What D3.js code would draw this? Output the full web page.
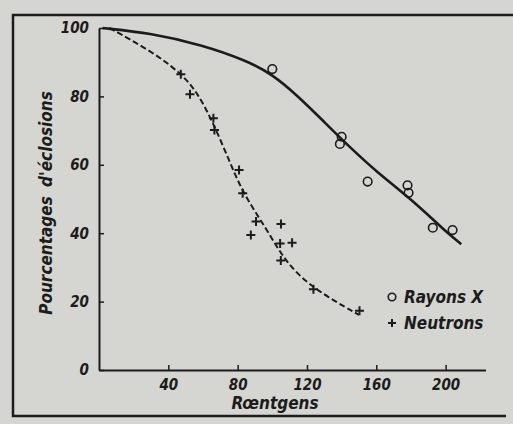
<!DOCTYPE html>
<html>
<head>
<meta charset="utf-8">
<script src="https://cdn.jsdelivr.net/npm/d3@7"></script>
<style>
  body { margin: 0; background: #d5d5d1; }
  svg { display: block; }
  text { font-family: "DejaVu Sans Condensed", "Liberation Sans Narrow", "Liberation Sans", sans-serif; font-weight: bold; font-style: italic; fill: #1c1c1c; }
</style>
</head>
<body>
<svg id="chart" width="513" height="424"></svg>
<script>
const xrayDose = [100, 140, 139, 155, 178, 178.6, 192.6, 204]
const xrayPct = [88, 68.2, 66.1, 55.1, 54, 51.8, 41.6, 40.9]
const neutronDose = [47.2, 52.5, 66, 66.6, 80.8, 82.9, 90.6, 87.6, 105, 104.5, 111.4, 104.9, 123.7, 150.3]
const neutronPct = [86.5, 80.6, 73.6, 70.2, 58.5, 51.7, 43.4, 39.5, 42.7, 37, 37.2, 32, 23.6, 17.3]

// hand drawn fitted curves
const xrayCurveDose = [2, 30, 60, 85, 100, 115, 130, 145, 160, 180, 200, 209]
const xrayCurvePct = [100, 98.5, 95, 90.5, 86.5, 80, 72.5, 65, 58, 50, 40.5, 36.8]
const neutronCurveDose = [6, 29, 47, 57, 66, 75, 83, 97, 108, 124, 150]
const neutronCurvePct = [100, 93.6, 87, 81, 72.1, 61.4, 51.7, 41, 31.2, 23.6, 16.1]

const xTicks = [40, 80, 120, 160, 200]
const yTicks = [0, 20, 40, 60, 80, 100]
const legendLabels = ["Rayons X", "Neutrons"]

const svg = d3.select("#chart")
const ink = "#1c1c1c"

// frame around the figure
svg.append("path")
    .attr("d", "M513,15 L13,15 L13,416 L506,416")
    .attr("fill", "none")
    .attr("stroke", ink)
    .attr("stroke-width", 2.5)

const x = d3.scaleLinear().domain([0, 223]).range([99, 485.5])
const y = d3.scaleLinear().domain([0, 100]).range([370, 28])

const xAxis = svg.append("g")
    .attr("transform", `translate(0,${y(0)})`)
    .call(d3.axisBottom(x).tickValues(xTicks).tickSizeInner(-5).tickSizeOuter(0).tickPadding(9))
xAxis.selectAll("text").style("font-size", "15px")

const yAxis = svg.append("g")
    .attr("transform", `translate(${x(0)},0)`)
    .call(d3.axisLeft(y).tickValues(yTicks).tickSizeInner(-5).tickSizeOuter(0).tickPadding(10))
yAxis.selectAll("text").style("font-size", "15px")

svg.selectAll(".domain").attr("stroke", ink).attr("stroke-width", 2)
svg.selectAll(".tick line").attr("stroke", ink).attr("stroke-width", 1.5)

// axis titles
svg.append("text")
    .attr("x", 275)
    .attr("y", 409)
    .attr("text-anchor", "middle")
    .style("font-size", "17px")
    .text("Rœntgens")

svg.append("text")
    .attr("transform", "translate(52,203) rotate(-90)")
    .attr("text-anchor", "middle")
    .style("font-size", "17px")
    .style("word-spacing", "4px")
    .text("Pourcentages d'éclosions")

// fitted curves
const curveLine = d3.line()
    .curve(d3.curveBasis)
    .x(d => x(d[0]))
    .y(d => y(d[1]))

svg.append("path")
    .attr("d", curveLine(xrayCurveDose.map((d, i) => [d, xrayCurvePct[i]])))
    .attr("fill", "none")
    .attr("stroke", ink)
    .attr("stroke-width", 2.6)

svg.append("path")
    .attr("d", curveLine(neutronCurveDose.map((d, i) => [d, neutronCurvePct[i]])))
    .attr("fill", "none")
    .attr("stroke", ink)
    .attr("stroke-width", 2)
    .attr("stroke-dasharray", "6,3")

// points
svg.append("g")
    .selectAll("circle")
    .data(xrayDose.map((d, i) => [d, xrayPct[i]]))
    .enter()
    .append("circle")
    .attr("cx", d => x(d[0]))
    .attr("cy", d => y(d[1]))
    .attr("r", 4.3)
    .attr("fill", "none")
    .attr("stroke", ink)
    .attr("stroke-width", 1.6)

const plus = (cx, cy, s) => `M${cx - s},${cy} H${cx + s} M${cx},${cy - s} V${cy + s}`

svg.append("g")
    .selectAll("path")
    .data(neutronDose.map((d, i) => [d, neutronPct[i]]))
    .enter()
    .append("path")
    .attr("d", d => plus(x(d[0]), y(d[1]), 4.5))
    .attr("stroke", ink)
    .attr("stroke-width", 2)

// legend
const legend = svg.append("g").attr("transform", "translate(392,297)")
legend.append("circle")
    .attr("cx", 0).attr("cy", 0).attr("r", 3.8)
    .attr("fill", "none").attr("stroke", ink).attr("stroke-width", 1.6)
legend.append("path")
    .attr("d", plus(0, 26, 4))
    .attr("stroke", ink).attr("stroke-width", 2)
legend.selectAll("text")
    .data(legendLabels)
    .enter()
    .append("text")
    .attr("x", 12)
    .attr("y", (_d, i) => 6 + i * 26)
    .style("font-size", "17px")
    .text(d => d)
</script>
</body>
</html>
